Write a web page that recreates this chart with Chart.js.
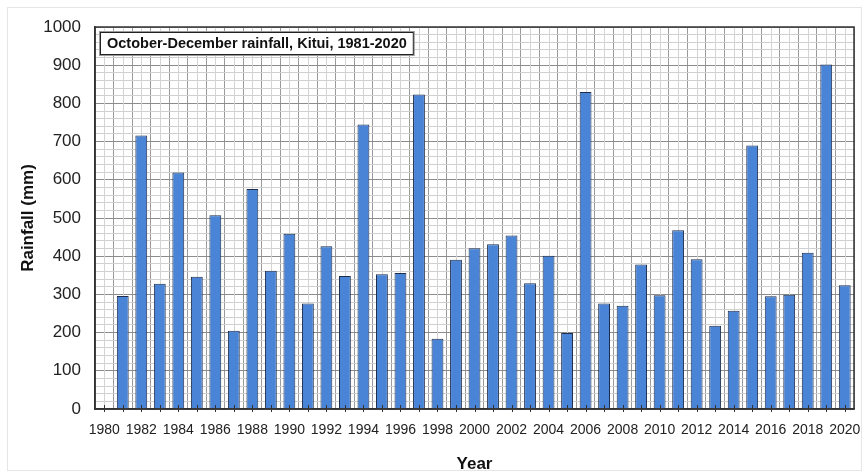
<!DOCTYPE html>
<html lang="en">

<head>
    <meta charset="UTF-8" />
    <title>October-December rainfall, Kitui</title>
    <script src="https://cdn.jsdelivr.net/npm/chart.js"></script>
    <style>
        body {
            margin: 0;
            background: #fff;
        }

        .wrap {
            position: relative;
            width: 868px;
            height: 476px;
        }

        .frame {
            position: absolute;
            left: 7px;
            top: 7px;
            right: 6px;
            bottom: 5px;
            border: 1px solid #e6e6e6;
            pointer-events: none;
        }
    </style>
</head>

<body>
    <div class="wrap">
        <div class="frame"></div>
        <canvas id="rainChart"></canvas>
    </div>

    <script>
        const years = [
            "1980", "1981", "1982", "1983", "1984", "1985", "1986", "1987", "1988", "1989",
            "1990", "1991", "1992", "1993", "1994", "1995", "1996", "1997", "1998", "1999",
            "2000", "2001", "2002", "2003", "2004", "2005", "2006", "2007", "2008", "2009",
            "2010", "2011", "2012", "2013", "2014", "2015", "2016", "2017", "2018", "2019",
            "2020"
        ];
        // Oct-Dec totals (mm), 1980 has no value
        const rainfall = [
            null, 296, 716, 328, 619, 346, 507, 205, 576, 362,
            459, 276, 426, 348, 745, 353, 356, 823, 184, 391,
            421, 431, 454, 329, 401, 199, 830, 276, 270, 378,
            298, 468, 392, 218, 257, 690, 295, 299, 409, 902,
            324
        ];
        const chartTitle = "October-December rainfall, Kitui, 1981-2020";

        const FONT = "'Liberation Sans', Arial, sans-serif";

        // light vertical lines at each year, under the bars
        const minorGrid = {
            id: "minorGrid",
            beforeDatasetsDraw(chart) {
                const { ctx, chartArea, scales } = chart;
                ctx.save();
                ctx.strokeStyle = "#d4d4d4";
                ctx.lineWidth = 1;
                years.forEach((y, i) => {
                    const x = Math.round(scales.x.getPixelForValue(i)) + 0.5;
                    ctx.beginPath();
                    ctx.moveTo(x, chartArea.top);
                    ctx.lineTo(x, chartArea.bottom);
                    ctx.stroke();
                });
                ctx.restore();
            }
        };

        // frame, year tick marks and the title box
        const decorations = {
            id: "decorations",
            afterDraw(chart) {
                const { ctx, chartArea, scales } = chart;
                ctx.save();
                ctx.strokeStyle = "#333";
                ctx.lineWidth = 1.5;
                ctx.strokeRect(chartArea.left, chartArea.top,
                    chartArea.right - chartArea.left, chartArea.bottom - chartArea.top);

                ctx.lineWidth = 1;
                years.forEach((y, i) => {
                    const x = Math.round(scales.x.getPixelForValue(i)) + 0.5;
                    ctx.beginPath();
                    ctx.moveTo(x, chartArea.bottom - 4);
                    ctx.lineTo(x, chartArea.bottom + 3);
                    ctx.stroke();
                });

                ctx.font = "bold 14.5px " + FONT;
                const w = ctx.measureText(chartTitle).width;
                const bx = chartArea.left + 5, by = chartArea.top + 5;
                ctx.fillStyle = "#fff";
                ctx.fillRect(bx, by, w + 14, 23);
                ctx.strokeStyle = "#999";
                ctx.lineWidth = 1;
                ctx.strokeRect(bx - 0.5, by - 0.5, w + 15, 24);
                ctx.strokeStyle = "#222";
                ctx.strokeRect(bx + 0.5, by + 0.5, w + 13, 22);
                ctx.fillStyle = "#111";
                ctx.textBaseline = "middle";
                ctx.fillText(chartTitle, bx + 7, by + 12);
                ctx.restore();
            }
        };

        new Chart(document.getElementById("rainChart"), {
            type: "bar",
            data: {
                labels: years,
                datasets: [{
                    label: "Rainfall (mm)",
                    data: rainfall,
                    backgroundColor: "#4a84d6",
                    borderColor: "#1e2d4a",
                    borderWidth: 1,
                    barPercentage: 0.64,
                    categoryPercentage: 1
                }]
            },
            options: {
                responsive: true,
                maintainAspectRatio: false,
                animation: false,
                layout: { padding: { top: 27, right: 14, left: 0, bottom: 0 } },
                plugins: {
                    legend: { display: false },
                    tooltip: { enabled: false }
                },
                scales: {
                    x: {
                        offset: true,
                        afterFit: s => {
                            s.height = 67;
                            // let the layout padding alone decide the right edge
                            s.paddingLeft = 0;
                            s.paddingRight = 0;
                        },
                        grid: {
                            offset: true,
                            color: "#9a9a9a",
                            drawTicks: false
                        },
                        border: { display: true, color: "#333", width: 1.5 },
                        ticks: {
                            autoSkip: false,
                            maxRotation: 0,
                            minRotation: 0,
                            padding: 13,
                            color: "#222",
                            font: { family: FONT, size: 14 },
                            callback: function (v) {
                                const lab = this.getLabelForValue(v);
                                return Number(lab) % 2 === 0 ? lab : "";
                            }
                        },
                        title: {
                            display: true,
                            text: "Year",
                            color: "#111",
                            padding: { top: 4, bottom: 1 },
                            font: { family: FONT, size: 17, weight: "bold" }
                        }
                    },
                    y: {
                        min: 0,
                        max: 1000,
                        afterFit: s => { s.width = 95; },
                        grid: {
                            drawTicks: false,
                            color: ctx => ctx.tick && ctx.tick.value % 100 === 0 ? "#8c8c8c" : "#d0d0d0"
                        },
                        border: { display: true, color: "#333", width: 1.5 },
                        ticks: {
                            stepSize: 20,
                            autoSkip: false,
                            padding: 14,
                            color: "#222",
                            font: { family: FONT, size: 17 },
                            callback: v => v % 100 === 0 ? v : ""
                        },
                        title: {
                            display: true,
                            text: "Rainfall (mm)",
                            color: "#111",
                            padding: { top: 18, bottom: 0 },
                            font: { family: FONT, size: 17, weight: "bold" }
                        }
                    }
                }
            },
            plugins: [minorGrid, decorations]
        });
    </script>
</body>

</html>
